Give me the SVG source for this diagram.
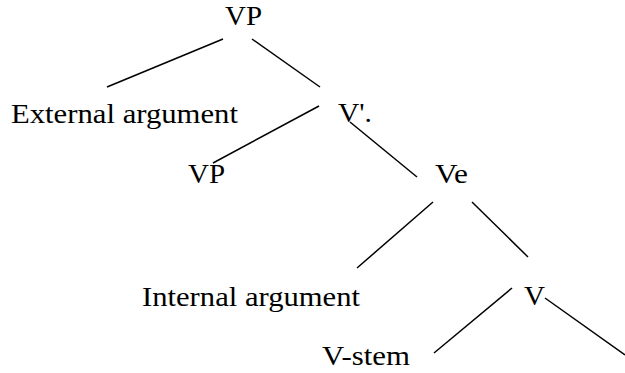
<svg xmlns="http://www.w3.org/2000/svg" width="625" height="373" viewBox="0 0 625 373">
<style>
text{font-family:'Liberation Serif','Times New Roman',serif;font-size:28px;fill:#000}
.e line{stroke:#000;stroke-width:1.5;stroke-linecap:butt}
</style>
<rect width="625" height="373" fill="#fff"/>
<g id="vp-top"><text x="225" y="25" textLength="37" lengthAdjust="spacingAndGlyphs">VP</text></g>
<g id="external"><text x="11" y="123" textLength="227" lengthAdjust="spacingAndGlyphs">External argument</text></g>
<g id="vbar"><text x="338" y="122" textLength="34" lengthAdjust="spacingAndGlyphs">V'.</text></g>
<g id="vp-mid"><text x="188" y="183" textLength="37" lengthAdjust="spacingAndGlyphs">VP</text></g>
<g id="ve"><text x="435" y="183" textLength="33" lengthAdjust="spacingAndGlyphs">Ve</text></g>
<g id="internal"><text x="142" y="306" textLength="218" lengthAdjust="spacingAndGlyphs">Internal argument</text></g>
<g id="v"><text x="524" y="305" textLength="21" lengthAdjust="spacingAndGlyphs">V</text></g>
<g id="vstem"><text x="322" y="365" textLength="88" lengthAdjust="spacingAndGlyphs">V-stem</text></g>
<g id="connectors" class="e">
<line x1="223" y1="39" x2="107" y2="87"/>
<line x1="252" y1="39" x2="320" y2="87"/>
<line x1="319" y1="106" x2="213" y2="163"/>
<line x1="350" y1="122" x2="417" y2="177"/>
<line x1="433" y1="202" x2="357" y2="268"/>
<line x1="472" y1="202" x2="528" y2="257"/>
<line x1="512" y1="288" x2="434" y2="353"/>
<line x1="545" y1="298" x2="625" y2="355"/>
</g>
</svg>
